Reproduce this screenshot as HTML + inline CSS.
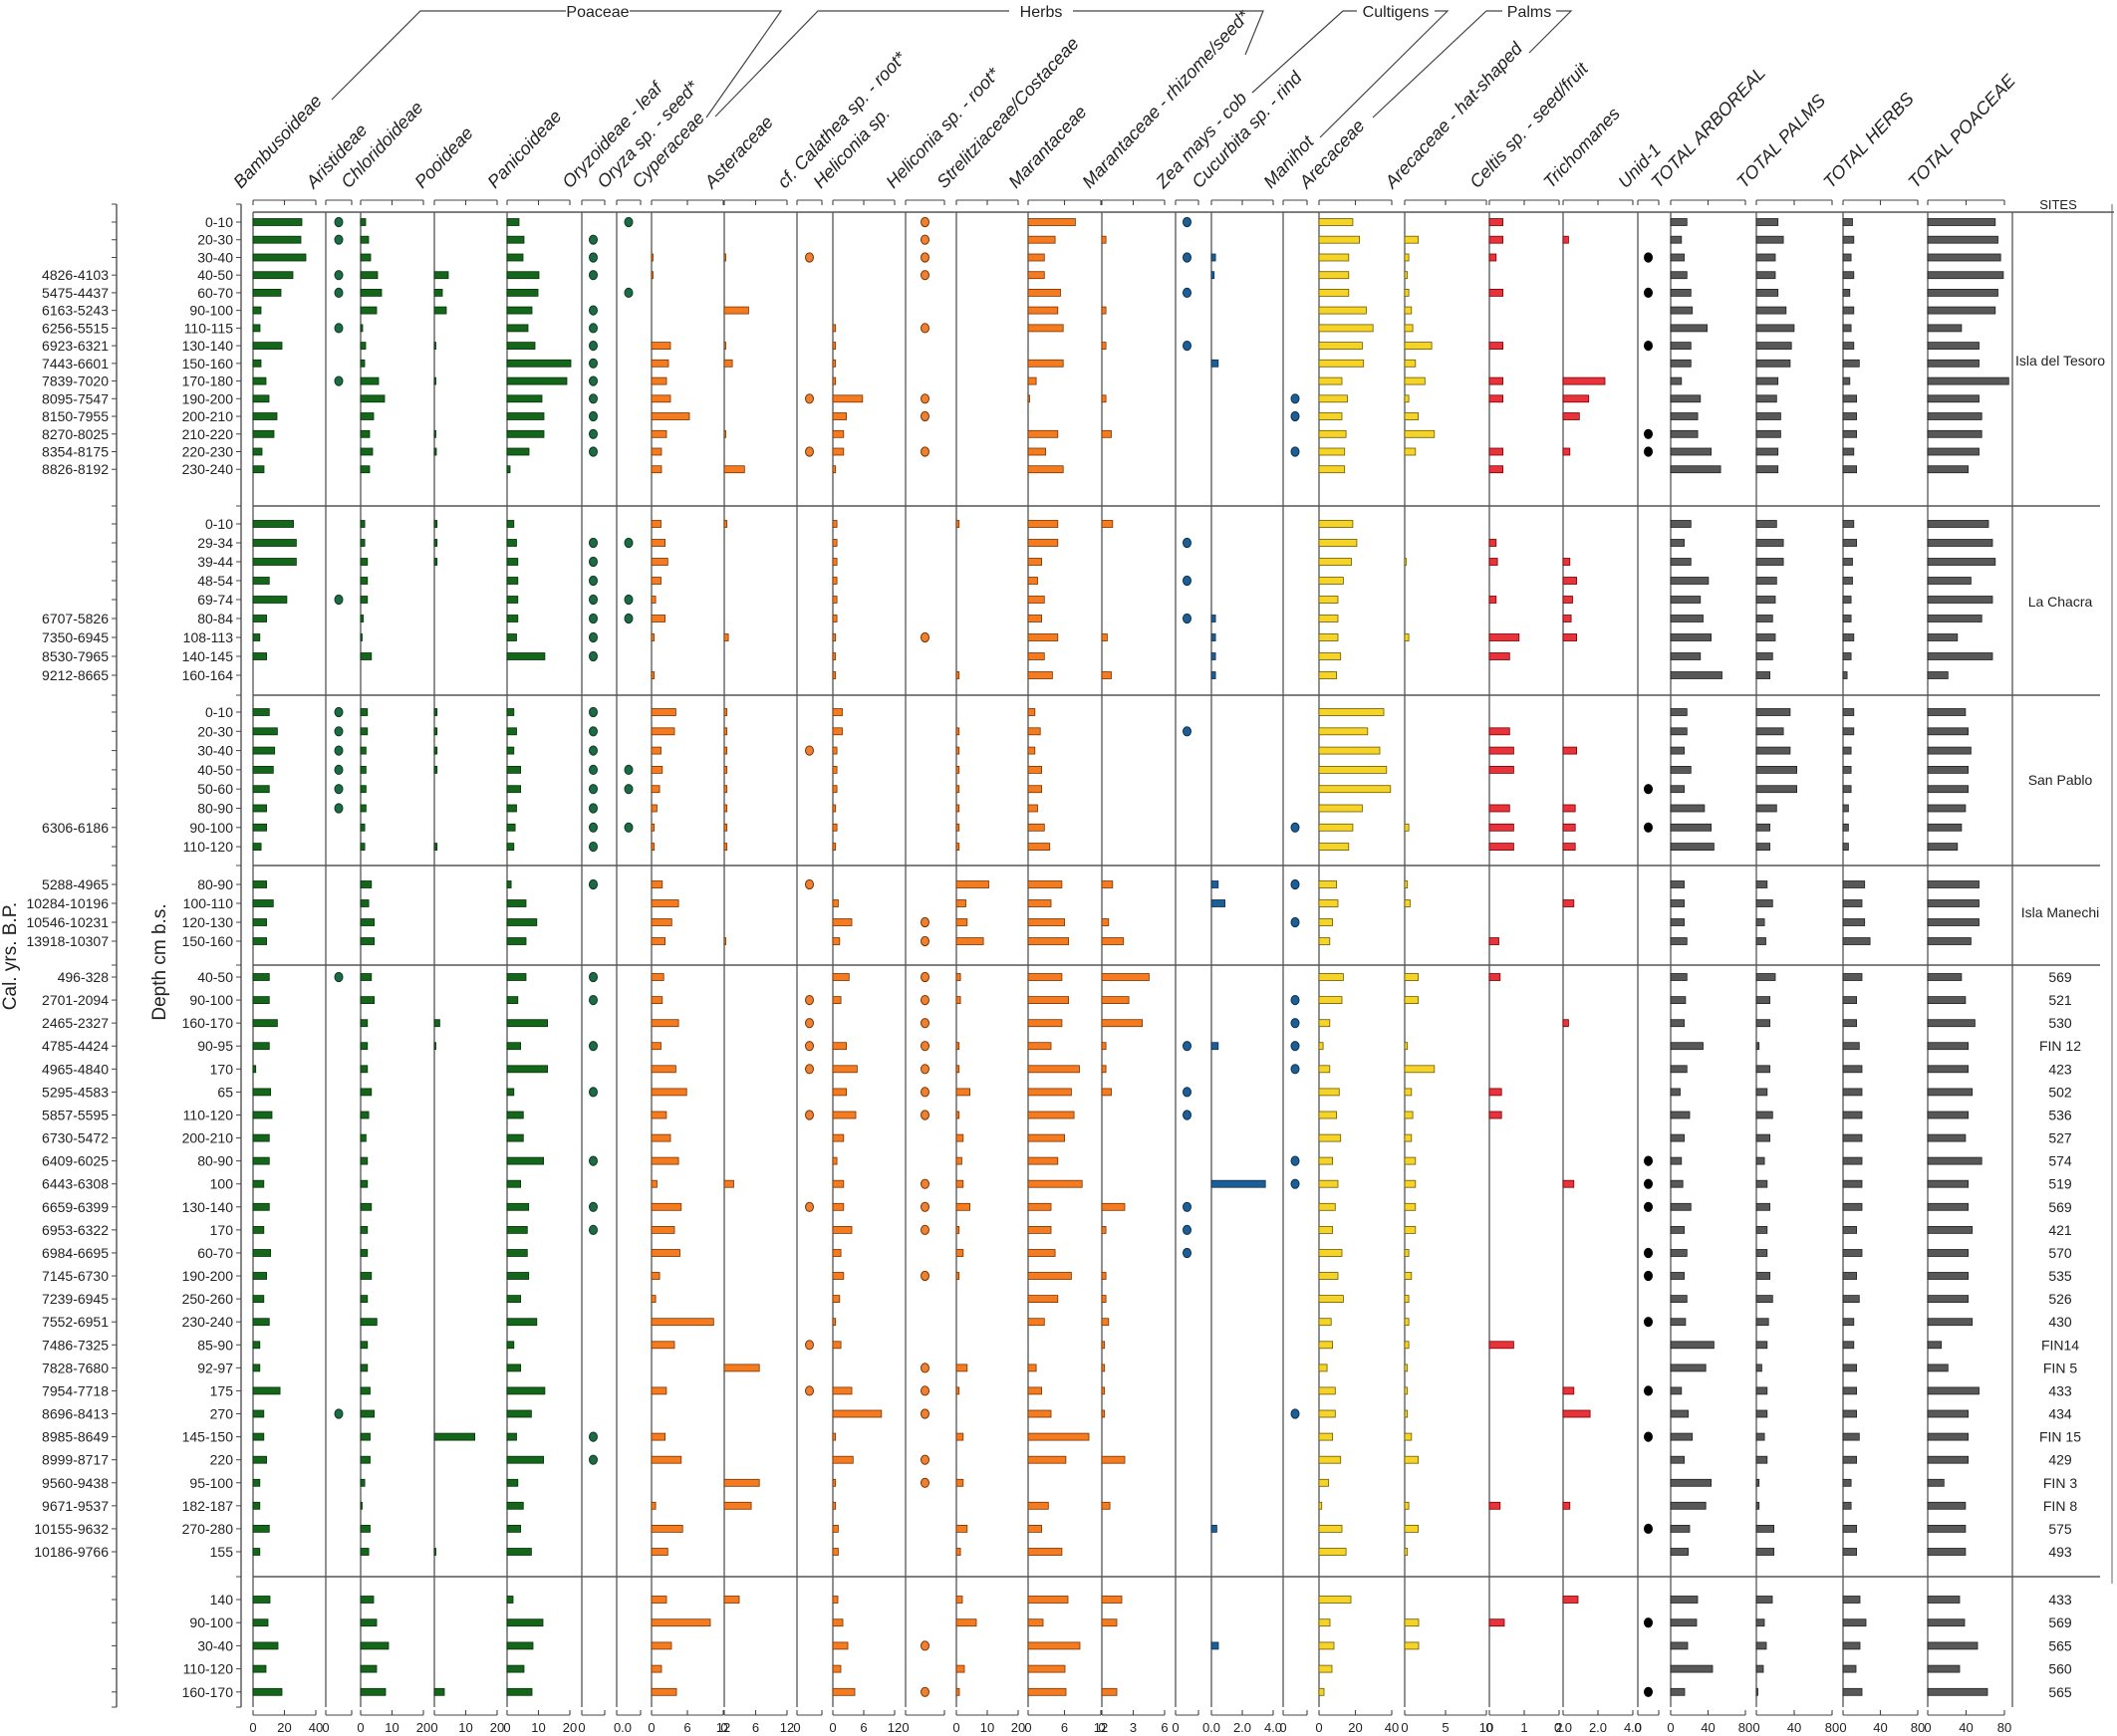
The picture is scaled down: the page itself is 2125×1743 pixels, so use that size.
<!DOCTYPE html>
<html><head><meta charset="utf-8">
<style>
html,body{margin:0;padding:0;background:#fff;}
svg{display:block;font-family:"Liberation Sans",Arial,sans-serif;}
</style></head>
<body>
<svg id="s" width="2125" height="1743" viewBox="0 0 2125 1743" xmlns="http://www.w3.org/2000/svg"></svg>
<script>
const S=document.getElementById('s');
let out='';
const K=1.355;
const cols=[
 [254,317,'Bambusoideae','b',['0','20','40']],
 [327,353,'Aristideae','d',['0']],
 [362,425,'Chloridoideae','b',['0','10','20']],
 [436,499,'Pooideae','b',['0','10','20']],
 [509,572,'Panicoideae','b',['0','10','20']],
 [584,607,'Oryzoideae - leaf','d',['0']],
 [619,643,'Oryza sp. - seed*','d',['0.0']],
 [654,726,'Cyperaceae','b',['0','6','12']],
 [727,790,'Asteraceae','b',['0','6','12']],
 [800,825,'cf. Calathea sp. - root*','d',['0']],
 [836,898,'Heliconia sp.','b',['0','6','12']],
 [909,948,'Heliconia sp. - root*','d',['0']],
 [960,1022,'Strelitziaceae/Costaceae','b',['0','10','20']],
 [1032,1105,'Marantaceae','b',['0','6','12']],
 [1106,1169,'Marantaceae - rhizome/seed*','b',['0','3','6']],
 [1180,1203,'Zea mays - cob','d',['0']],
 [1216,1278,'Cucurbita sp. - rind','b',['0.0','2.0','4.0']],
 [1288,1312,'Manihot','d',['0']],
 [1324,1397,'Arecaceae','b',['0','20','40']],
 [1410,1492,'Arecaceae - hat-shaped','b',['0','5','10']],
 [1495,1565,'Celtis sp. - seed/fruit','b',['0','1','2']],
 [1569,1639,'Trichomanes','b',['0.0','2.0','4.0']],
 [1644,1665,'Unid-1','d',['0']],
 [1677,1752,'TOTAL ARBOREAL','b',['0','40','80']],
 [1763,1839,'TOTAL PALMS','b',['0','40','80']],
 [1850,1925,'TOTAL HERBS','b',['0','40','80']],
 [1935,2012,'TOTAL POACEAE','b',['0','40','80']]
];
function colr(i){
 if(i<=6) return ['#13661a','#08330b','#1d6b45','#0a3a20'];
 if(i<=14) return ['#f47b20','#7a3300','#f08030','#7a3300'];
 if(i<=17) return ['#1c5f96','#0c2f50','#1c5f96','#0c2f50'];
 if(i<=19) return ['#f5d327','#6b5a00','#f5d327','#6b5a00'];
 if(i<=21) return ['#e8333c','#7a0000','#e8333c','#7a0000'];
 if(i==22) return ['#000','#000','#000','#000'];
 return ['#585858','#222','#585858','#222'];
}
const P=a=>a.map(v=>v*K);
const secs=[
{y0:223,dy:17.73,top:213,bot:508,site:'Isla del Tesoro',siteY:362,
 dep:['0-10','20-30','30-40','40-50','60-70','90-100','110-115','130-140','150-160','170-180','190-200','200-210','210-220','220-230','230-240'],
 cal:['','','','4826-4103','5475-4437','6163-5243','6256-5515','6923-6321','7443-6601','7839-7020','8095-7547','8150-7955','8270-8025','8354-8175','8826-8192'],
 b:{0:[49,48,53,40,28,8,7,29,8,13,16,24,21,9,11],
    2:[5,8,10,17,21,16,2,5,4,18,24,13,9,12,9],
    3:[0,0,0,14,8,12,0,1,0,1,0,0,1,2,0],
    4:[12,17,16,32,31,25,21,28,64,60,35,37,37,22,3],
    7:[0,0,1,1,0,0,0,19,17,15,19,38,15,10,10],
    8:P([0,0,1,0,0,18,0,1,6,0,0,0,1,0,15]),
    10:P([0,0,0,0,0,0,2,2,2,2,22,10,8,8,2]),
    13:P([35,20,12,12,24,22,26,0,26,6,1,0,22,13,26]),
    14:P([0,3,0,0,0,3,0,3,0,0,3,0,7,0,0]),
    16:P([0,0,3,2,0,0,0,0,5,0,0,0,0,0,0]),
    18:P([25,30,22,22,22,35,40,32,33,17,21,17,20,19,19]),
    19:P([0,10,3,2,3,5,6,20,8,15,3,10,22,8,0]),
    20:P([10,10,5,0,10,0,0,10,0,10,10,0,0,10,10]),
    21:P([0,4,0,0,0,0,0,0,0,31,19,12,0,5,0]),
    23:P([12,8,10,12,15,16,27,15,15,8,22,20,20,30,37]),
    24:P([16,20,14,14,16,22,28,26,25,16,15,18,18,16,16]),
    25:P([7,8,6,8,5,8,6,8,12,5,10,10,10,8,10]),
    26:P([50,52,54,56,52,50,25,38,38,60,38,40,40,38,30])},
 d:{1:[0,1,3,4,6,9],5:[1,2,3,5,6,7,8,9,10,11,12,13],6:[0,4],9:[2,10,13],11:[0,1,2,3,6,10,11,13],15:[0,2,4,7],17:[10,11,13],22:[2,4,7,12,13]}},
{y0:526,dy:19,top:508,bot:698,site:'La Chacra',siteY:604,
 dep:['0-10','29-34','39-44','48-54','69-74','80-84','108-113','140-145','160-164'],
 cal:['','','','','','6707-5826','7350-6945','8530-7965','9212-8665'],
 b:{0:P([30,32,32,12,25,10,5,10,0]),2:P([3,3,5,5,5,2,1,8,0]),3:P([2,2,2,0,0,0,0,0,0]),4:P([5,7,8,8,8,8,7,28,0]),
    7:P([7,10,12,7,3,10,2,0,2]),8:P([2,0,0,0,0,0,3,0,0]),10:P([3,3,3,3,3,3,2,2,2]),12:P([2,0,0,0,0,0,0,0,2]),
    13:P([22,22,10,7,12,10,22,12,18]),14:P([8,0,0,0,0,0,4,0,7]),16:P([0,0,0,0,0,3,3,3,3]),
    18:P([25,28,24,18,14,14,14,16,13]),19:P([0,0,1,0,0,0,3,0,0]),20:P([0,5,6,0,5,0,22,15,0]),21:P([0,0,5,10,7,6,10,0,0]),
    23:P([15,10,15,28,22,24,30,22,38]),24:P([15,20,20,15,14,12,14,12,10]),25:P([8,10,7,7,6,6,8,6,3]),26:P([45,48,50,32,48,40,22,48,15])},
 d:{1:[4],5:[1,2,3,4,5,6,7],6:[1,4,5],11:[6],15:[1,3,5]}},
{y0:715,dy:19.3,top:698,bot:869,site:'San Pablo',siteY:783,
 dep:['0-10','20-30','30-40','40-50','50-60','80-90','90-100','110-120'],
 cal:['','','','','','','6306-6186',''],
 b:{0:P([12,18,16,15,12,10,10,6]),2:P([5,5,4,4,4,4,3,3]),3:P([2,2,2,2,0,0,0,2]),4:P([5,7,5,10,10,7,6,5]),
    7:P([18,17,7,8,6,4,2,2]),8:P([2,2,2,2,2,2,2,2]),10:P([7,7,3,3,3,2,3,2]),12:P([0,2,2,2,2,2,2,2]),
    13:P([5,9,5,10,10,7,12,16]),18:P([48,36,45,50,53,32,25,22]),19:P([0,0,0,0,0,0,3,0]),
    20:P([0,15,18,18,0,15,18,18]),21:P([0,0,10,0,0,9,9,9]),
    23:P([12,12,10,15,10,25,30,32]),24:P([25,20,25,30,30,15,10,10]),25:P([8,8,6,6,6,4,4,4]),26:P([28,30,32,30,30,28,25,22])},
 d:{1:[0,1,2,3,4,5],5:[0,1,2,3,4,5,6,7],6:[3,4,6],9:[2],15:[1],17:[6],22:[4,6]}},
{y0:888,dy:19,top:869,bot:969,site:'Isla Manechi',siteY:916,
 dep:['80-90','100-110','120-130','150-160'],
 cal:['5288-4965','10284-10196','10546-10231','13918-10307'],
 b:{0:P([10,15,10,10]),2:P([8,6,10,10]),4:P([3,14,22,14]),7:P([8,20,15,10]),8:P([0,0,0,1]),10:P([0,4,14,5]),
    12:P([24,7,8,20]),13:P([25,17,27,30]),14:P([8,0,5,16]),16:P([5,10,0,0]),18:P([13,14,10,8]),19:P([2,4,0,0]),
    20:P([0,0,0,7]),21:P([0,8,0,0]),23:P([10,10,10,12]),24:P([8,12,6,7]),25:P([16,14,16,20]),26:P([38,38,38,32])},
 d:{5:[0],9:[0],11:[2,3],17:[0,2]}},
{y0:981,dy:23.08,top:969,bot:1583,
 dep:['40-50','90-100','160-170','90-95','170','65','110-120','200-210','80-90','100','130-140','170','60-70','190-200','250-260','230-240','85-90','92-97','175','270','145-150','220','95-100','182-187','270-280','155'],
 cal:['496-328','2701-2094','2465-2327','4785-4424','4965-4840','5295-4583','5857-5595','6730-5472','6409-6025','6443-6308','6659-6399','6953-6322','6984-6695','7145-6730','7239-6945','7552-6951','7486-7325','7828-7680','7954-7718','8696-8413','8985-8649','8999-8717','9560-9438','9671-9537','10155-9632','10186-9766'],
 sites:['569','521','530','FIN 12','423','502','536','527','574','519','569','421','570','535','526','430','FIN14','FIN 5','433','434','FIN 15','429','FIN 3','FIN 8','575','493'],
 b:{0:P([12,12,18,12,2,13,14,12,12,8,12,8,13,10,8,12,5,5,20,8,8,10,5,5,12,5]),
    2:P([8,10,5,5,5,8,6,4,5,5,8,5,5,8,5,12,5,5,7,10,7,7,3,1,7,6]),
    3:P([0,0,4,1,0,0,0,0,0,0,0,0,0,0,0,0,0,0,0,0,30,0,0,0,0,1]),
    4:P([14,8,30,10,30,5,12,12,27,10,16,15,15,16,10,22,5,10,28,18,7,27,8,12,10,18]),
    7:P([9,8,20,7,18,26,11,14,20,4,22,17,21,6,3,46,17,0,11,0,10,22,0,3,23,12]),
    8:P([0,0,0,0,0,0,0,0,0,7,0,0,0,0,0,0,0,26,0,0,0,0,26,20,0,0]),
    10:P([12,6,0,10,18,10,17,8,3,8,8,14,6,8,5,2,6,0,14,36,2,15,2,2,4,4]),
    12:P([3,3,0,2,2,10,2,5,4,5,10,2,5,2,0,0,0,8,2,0,5,0,5,0,8,3]),
    13:P([25,30,25,17,38,32,34,27,22,40,17,17,20,32,22,12,0,6,10,17,45,28,0,15,10,25]),
    14:P([35,20,30,3,3,7,0,0,0,0,17,3,0,3,3,5,2,2,2,2,0,17,0,6,0,0]),
    16:P([0,0,0,5,0,0,0,0,0,40,0,0,0,0,0,0,0,0,0,0,0,0,0,0,4,0]),
    18:P([18,17,8,3,8,15,13,16,10,14,12,10,17,14,18,9,10,6,12,12,10,16,7,2,17,20]),
    19:P([10,10,0,2,22,5,6,5,8,8,8,8,3,5,3,3,3,2,2,2,5,10,0,3,10,2]),
    20:P([8,0,0,0,0,9,9,0,0,0,0,0,0,0,0,0,18,0,0,0,0,0,0,8,0,0]),
    21:P([0,0,4,0,0,0,0,0,0,8,0,0,0,0,0,0,0,0,8,20,0,0,0,5,0,0]),
    23:P([12,11,10,24,12,7,14,10,8,9,15,10,12,10,12,11,32,26,8,13,16,10,30,26,14,13]),
    24:P([14,10,10,2,10,8,12,10,6,8,10,8,8,10,12,9,8,4,8,8,6,8,2,2,13,13]),
    25:P([14,10,10,12,14,14,14,14,14,14,14,10,14,10,12,8,8,10,10,10,12,10,6,6,10,10]),
    26:P([25,28,35,30,30,33,30,28,40,30,30,33,30,30,30,33,10,15,38,30,30,30,12,28,28,28])},
 d:{1:[0,19],5:[0,1,3,5,8,10,11,20,21],9:[1,2,3,4,6,10,16,18],11:[0,1,2,3,4,5,6,9,10,11,13,17,18,19,21,22],15:[3,5,6,10,11,12],17:[1,2,3,4,8,9,19],22:[8,9,10,12,13,15,18,20,24]}},
{y0:1606,dy:23.2,top:1583,bot:1714,
 dep:['140','90-100','30-40','110-120','160-170'],cal:['','','','',''],
 sites:['433','569','565','560','565'],
 b:{0:[17,15,25,13,29],2:[13,16,28,16,25],3:[0,0,0,0,10],4:[6,36,26,17,25],7:[15,59,20,10,25],8:[15,0,0,0,0],
    10:[5,10,15,8,22],12:[6,20,0,8,3],13:[40,15,52,37,38],14:[20,15,0,0,15],16:[0,0,7,0,0],
    18:[32,11,15,13,5],19:[0,14,14,0,0],20:[0,15,0,0,0],21:[15,0,0,0,0],
    23:[27,26,17,42,14],24:[16,8,10,7,1],25:[17,23,17,13,19],26:[32,37,50,32,60]},
 d:{11:[2,4],22:[1,4]}}
];
const line=(x1,y1,x2,y2,w,c)=>`<line x1="${x1}" y1="${y1}" x2="${x2}" y2="${y2}" stroke="${c||'#444'}" stroke-width="${w||1.2}"/>`;
// vertical column lines
cols.forEach(c=>{out+=line(c[0],213,c[0],1714,1.3,'#555');});
out+=line(2020,213,2020,1714,1.3,'#555');
// header line and section lines
out+=line(254,213,2122,213,1.6,'#555');
[508,698,869,969,1583].forEach(y=>{out+=line(254,y,2108,y,1.6,'#555');});
out+=line(2120,205,2120,1590,1,'#666');
// top & bottom axes
cols.forEach(c=>{
 const L=c[0],R=c[1];
 out+=line(L,201,R,201,1.1,'#444');out+=line(L,201,L,206,1.1,'#444');out+=line(R,201,R,206,1.1,'#444');
 out+=line(L,1722,R,1722,1.1,'#444');out+=line(L,1722,L,1717,1.1,'#444');out+=line(R,1722,R,1717,1.1,'#444');
 const t=c[4];
 if(c[3]=='b'){const m=(L+R)/2;out+=line(m,201,m,206,1.1,'#444');out+=line(m,1722,m,1717,1.1,'#444');
  [L,m,R].forEach((x,i)=>{out+=`<text x="${x}" y="1739" font-size="13" text-anchor="middle" fill="#222">${t[i]}</text>`;});
 } else out+=`<text x="${L+(t[0].length>1?6:0)}" y="1739" font-size="13" text-anchor="middle" fill="#222">${t[0]}</text>`;
 // column label
 out+=`<text transform="translate(${L-12},190) rotate(-47)" font-size="18" font-style="italic" fill="#222">${c[2]}</text>`;
});
// left axes
out+=line(117,205,117,1714,1.3,'#444');
out+=line(242,205,242,1714,1.3,'#444');
out+=`<text transform="translate(16,960) rotate(-90)" font-size="19" text-anchor="middle" fill="#222">Cal. yrs. B.P.</text>`;
out+=`<text transform="translate(166,966) rotate(-90)" font-size="19" text-anchor="middle" fill="#222">Depth cm b.s.</text>`;
out+=`<text x="2066" y="210" font-size="13" text-anchor="middle" fill="#222">SITES</text>`;
[205,508,698,869,969,1583,1714].forEach(y=>{out+=line(112,y,117,y,1,'#444');out+=line(237,y,242,y,1,'#444');});
secs.forEach(s=>{
 s.dep.forEach((d,i)=>{
  const y=s.y0+i*s.dy;
  out+=line(112,y,117,y,1,'#444');out+=line(237,y,242,y,1,'#444');
  out+=`<text x="234" y="${y+5}" font-size="14" text-anchor="end" fill="#222">${d}</text>`;
  if(s.cal[i]) out+=`<text x="109" y="${y+5}" font-size="14" text-anchor="end" fill="#222">${s.cal[i]}</text>`;
  if(s.sites) out+=`<text x="2068" y="${y+5}" font-size="14" text-anchor="middle" fill="#222">${s.sites[i]}</text>`;
 });
 if(s.site) out+=`<text x="2068" y="${s.siteY+5}" font-size="14" text-anchor="middle" fill="#222">${s.site}</text>`;
 for(const k in s.b){
  const ci=+k,cc=colr(ci),L=cols[ci][0];
  s.b[k].forEach((v,i)=>{ if(v>0.3){const y=s.y0+i*s.dy;
   out+=`<rect x="${L}" y="${(y-3.5).toFixed(1)}" width="${Math.max(v,1.5).toFixed(1)}" height="7" fill="${cc[0]}" stroke="${cc[1]}" stroke-width="0.8"/>`;}});
 }
 for(const k in s.d){
  const ci=+k,cc=colr(ci),cx=(cols[ci][0]+cols[ci][1])/2;
  s.d[k].forEach(i=>{const y=s.y0+i*s.dy;
   out+=`<ellipse cx="${cx}" cy="${y.toFixed(1)}" rx="4" ry="4.6" fill="${cc[2]}" stroke="${cc[3]}" stroke-width="1"/>`;});
 }
});
// group brackets
function grp(d,label,x){out+=`<path d="${d}" fill="none" stroke="#444" stroke-width="1.2"/><text x="${x}" y="17" font-size="16" text-anchor="middle" fill="#222">${label}</text>`;}
grp('M333,100 L422,11 L568,11 M632,11 L784,11 L709,118','Poaceae',600);
grp('M718,117 L821,11 L1013,11 M1077,11 L1268,11 L1250,55','Herbs',1045);
grp('M1257,93 L1348,11 L1362,11 M1440,11 L1453,11 L1325,138','Cultigens',1401);
grp('M1378,118 L1492,11 L1508,11 M1562,11 L1577,11 L1535,53','Palms',1535);
S.innerHTML=out;
</script>
</body></html>
